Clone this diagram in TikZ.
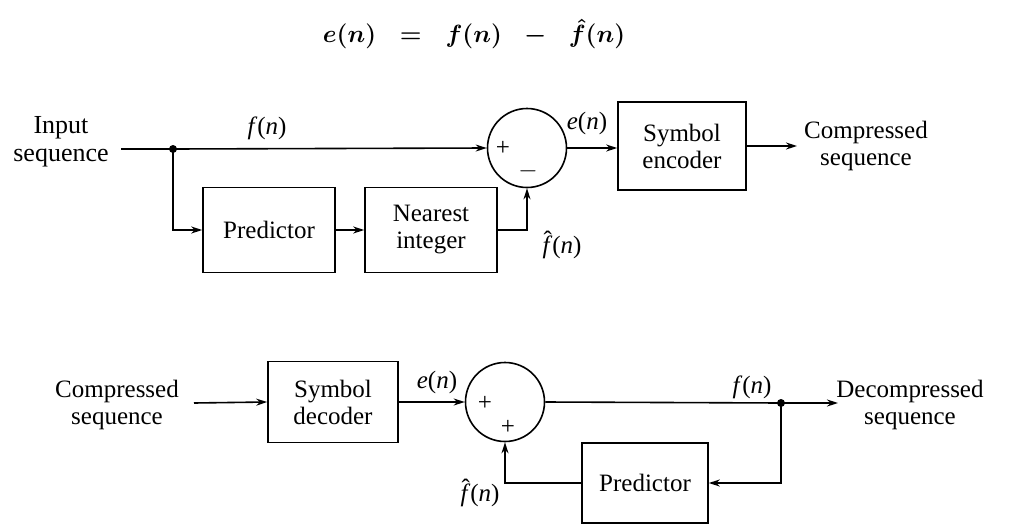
\documentclass[tikz,border=0pt]{standalone}
\usepackage{amsmath}
\usepackage{fontspec}
\setmainfont{Liberation Serif}
\usetikzlibrary{arrows.meta}
\newcommand{\fn}{\textit{f}(\textit{n})}
\newcommand{\en}{\textit{e}(\textit{n})}
\newcommand{\fhatt}{\textit{f}\llap{\raisebox{0.2em}{\char"02C6}\hspace{0.02em}}}
\newcommand{\fhn}{\fhatt(\textit{n})}
\newcommand{\eqsp}{\mkern10mu}
\begin{document}
\begin{tikzpicture}[x=1pt,y=-1pt,
  lbl/.style={font=\fontsize{25}{27}\selectfont, align=center, inner sep=0pt},
  blk/.style={draw, line width=1.6pt, minimum width=#1, font=\fontsize{25}{27}\selectfont, align=center},
  sumc/.style={draw, circle, line width=1.6pt, minimum size=79pt, inner sep=0pt},
  conn/.style={line width=1.6pt, -{Stealth[length=11pt,width=7pt]}},
  wire/.style={line width=1.6pt},
  dotn/.style={circle, fill, inner sep=0pt, minimum size=8pt}]
\useasboundingbox (0,0) rectangle (1026,525);
% equation
\node[inner sep=0pt, font=\fontsize{31}{33}\selectfont\boldmath] (eq) at (474,34)
  {$e(n)\eqsp=\eqsp f(n)\eqsp-\eqsp\hat{f}(n)$};
% ---------- top: encoder ----------
\node[lbl, font=\fontsize{26}{28}\selectfont] (in) at (61,142) {Input\\sequence};
\node[dotn] (d1) at (173,149) {};
\node[sumc] (s1) at (527,148) {};
\node[lbl] at (503,148) {+};
\node[lbl, anchor=base] at (528,177) {$-$};
\node[blk=132pt, minimum height=85pt] (pred1) at (269,230) {Predictor};
\node[blk=132pt, minimum height=85pt] (near) at (431,230) {Nearest\\integer};
\node[blk=128pt, minimum height=88pt] (enc) at (682,146) {Symbol\\encoder};
\node[lbl] (out1) at (866,146) {Compressed\\sequence};
\node[lbl] (fn1) at (267,128) {\fn};
\node[lbl] (en1) at (587,123) {\en};
\node[lbl] (fh1) at (562,245) {\fhn};
\coordinate (instart) at (121,149);
\draw[wire] (instart) -- (d1.center);
\draw[conn] (d1.center) -- (s1.west);
\draw[conn] (d1.center) |- (pred1.west);
\draw[conn] (pred1.east) -- (near.west);
\draw[conn] (near.east) -| (s1.south);
\draw[conn] (s1.east) -- (s1.east -| enc.west);
\coordinate (o1) at (797,146);
\draw[conn] (enc.east) -- (o1);
% ---------- bottom: decoder ----------
\node[lbl] (cin) at (117,405) {Compressed\\sequence};
\node[blk=130pt, minimum height=81pt] (dec) at (333,402) {Symbol\\decoder};
\node[sumc] (s2) at (505,402) {};
\node[lbl] at (485,403) {+};
\node[lbl] at (508,427) {+};
\node[dotn] (d2) at (781,403) {};
\node[lbl] (out2) at (910,405) {Decompressed\\sequence};
\node[blk=126pt, minimum height=80pt] (pred2) at (645,483) {Predictor};
\node[lbl] (en2) at (437,382) {\en};
\node[lbl] (fn2) at (752,387) {\fn};
\node[lbl] (fh2) at (480,493) {\fhn};
\coordinate (cstart) at (194,403);
\draw[conn] (cstart) -- (dec.west);
\draw[conn] (dec.east) -- (s2.west);
\draw[wire] (s2.east) -- (d2.center);
\coordinate (o2) at (838,403);
\draw[conn] (d2.center) -- (o2);
\draw[conn] (d2.center) |- (pred2.east);
\draw[conn] (pred2.west) -| (s2.south);
\end{tikzpicture}
\end{document}
